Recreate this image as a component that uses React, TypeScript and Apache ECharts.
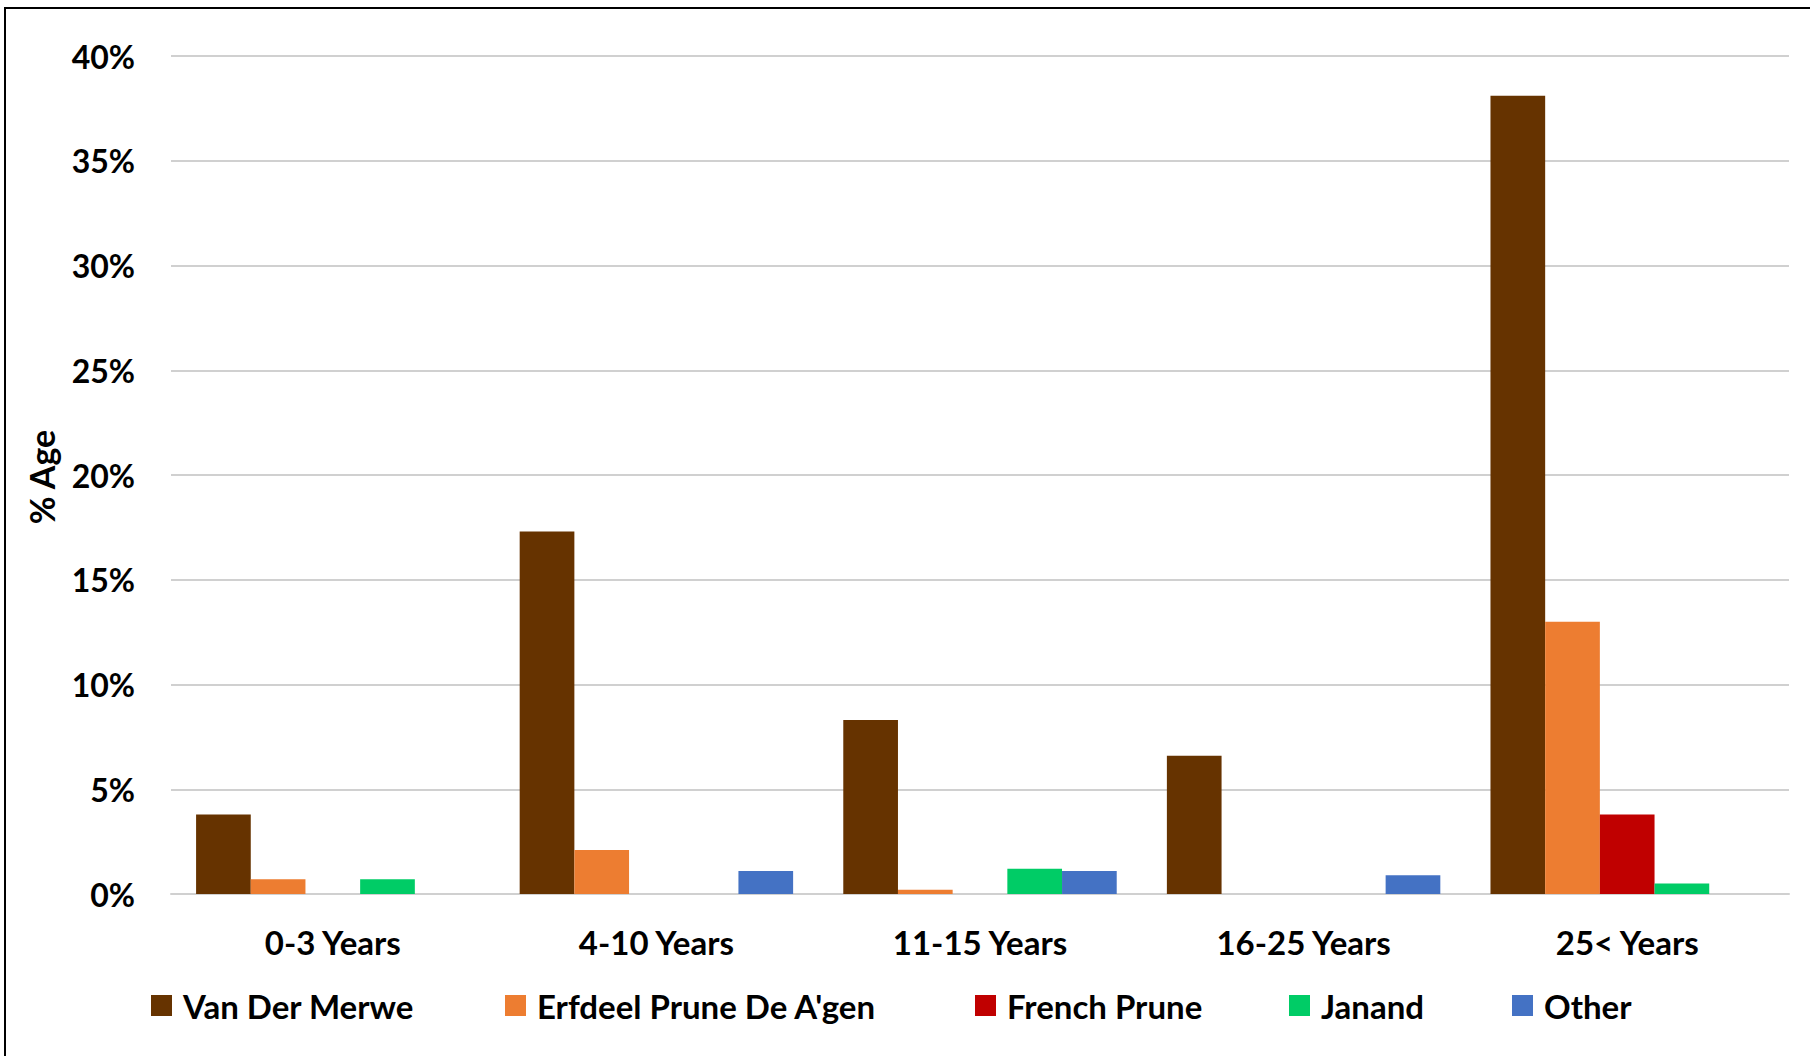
import React, { useEffect, useRef } from "react";
import * as echarts from "echarts";

const categories = ["0-3 Years", "4-10 Years", "11-15 Years", "16-25 Years", "25< Years"];
const seriesNames = ["Van Der Merwe", "Erfdeel Prune De A'gen", "French Prune", "Janand", "Other"];
const vanDerMerwe = [3.8, 17.3, 8.3, 6.6, 38.1];
const erfdeel = [0.7, 2.1, 0.2, null, 13.0];
const frenchPrune = [null, null, null, null, 3.8];
const janand = [0.7, null, 1.2, null, 0.5];
const other = [null, 1.1, 1.1, 0.9, null];
const seriesColors = ["#663300", "#ED7D31", "#C00000", "#00CC66", "#4472C4"];
const yTicks = { min: 0, max: 40, interval: 5 };
const legendLefts = [151, 505, 975, 1289, 1512];

const FONT = "Lato, 'Open Sans', sans-serif";

export default function App() {
  const ref = useRef<HTMLDivElement>(null);
  useEffect(() => {
    document.body.style.margin = "0";
    const chart = echarts.init(ref.current!, null, { renderer: "svg" });
    const values = [vanDerMerwe, erfdeel, frenchPrune, janand, other];
    chart.setOption({
      animation: false,
      backgroundColor: "#ffffff",
      grid: { left: 171, right: 21, top: 56, bottom: 162, containLabel: false },
      graphic: [
        {
          type: "rect",
          shape: { x: 5, y: 8, width: 1900, height: 1200 },
          style: { fill: "none", stroke: "#000000", lineWidth: 2 },
          silent: true,
        },
        {
          type: "text",
          x: 41,
          y: 477,
          rotation: Math.PI / 2,
          style: {
            text: "% Age",
            fill: "#000000",
            font: `bold 34px ${FONT}`,
            align: "center",
            verticalAlign: "middle",
          },
        },
      ],
      legend: seriesNames.map((n, i) => ({
        data: [n],
        left: legendLefts[i],
        top: 989,
        itemWidth: 21,
        itemHeight: 21,
        icon: "rect",
        padding: 0,
        textStyle: {
          fontFamily: FONT,
          fontWeight: "bold",
          fontSize: 33,
          lineHeight: 33,
          color: "#000000",
          padding: [0, 0, 0, 6],
        },
      })),
      xAxis: {
        type: "category",
        data: categories,
        axisTick: { show: false },
        axisLine: { lineStyle: { color: "#d0d0d0", width: 2 } },
        axisLabel: {
          margin: 31,
          fontFamily: FONT,
          fontWeight: "bold",
          fontSize: 33,
          color: "#000000",
        },
      },
      yAxis: {
        type: "value",
        min: yTicks.min,
        max: yTicks.max,
        interval: yTicks.interval,
        axisLine: { show: false },
        axisTick: { show: false },
        splitLine: { lineStyle: { color: "#d0d0d0", width: 2 } },
        axisLabel: {
          formatter: "{value}%",
          margin: 36,
          fontFamily: FONT,
          fontWeight: "bold",
          fontSize: 32,
          color: "#000000",
        },
      },
      series: seriesNames.map((n, i) => ({
        name: n,
        type: "bar",
        data: values[i].map((v) => (v === null ? "-" : v)),
        barGap: "0%",
        barCategoryGap: "15.5%",
        itemStyle: { color: seriesColors[i] },
      })),
    });
    return () => chart.dispose();
  }, []);
  return (
    <div
      ref={ref}
      style={{ position: "absolute", left: 0, top: 0, width: 1810, height: 1056 }}
    />
  );
}
